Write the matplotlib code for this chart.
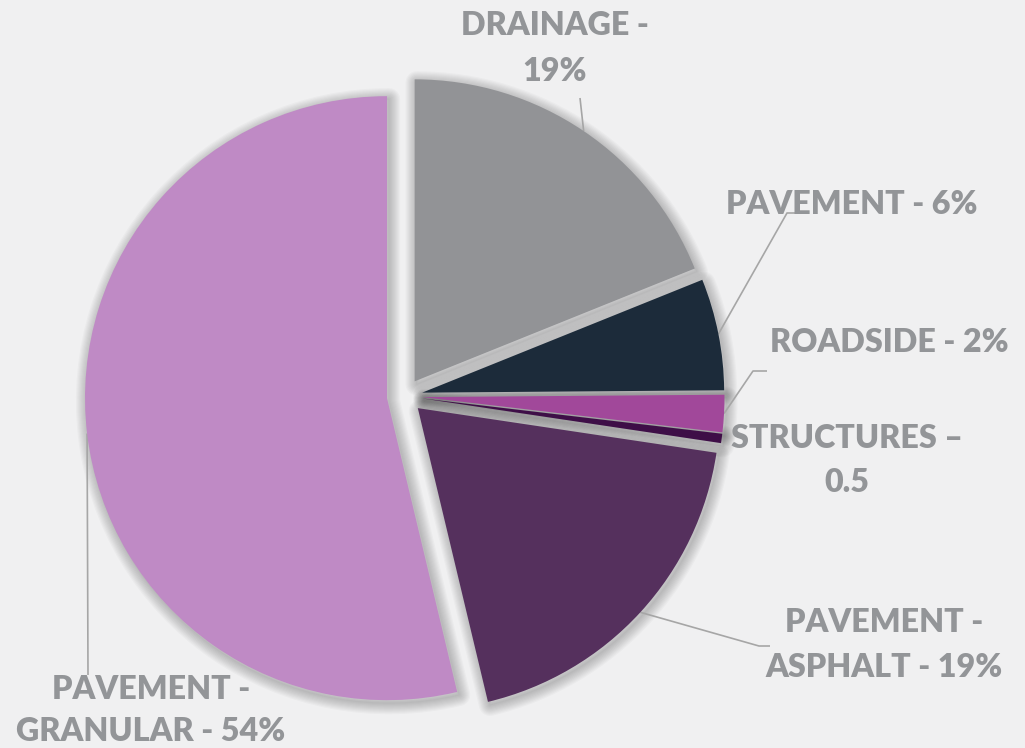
import numpy as np
import matplotlib
matplotlib.use("Agg")
import matplotlib.pyplot as plt
from matplotlib.patches import Wedge

# ---- data ----
categories = ["DRAINAGE -\n19%", "PAVEMENT - 6%", "ROADSIDE - 2%",
              "STRUCTURES –\n0.5", "PAVEMENT -\nASPHALT - 19%",
              "PAVEMENT -\nGRANULAR - 54%"]
values = [19, 6, 2, 0.5, 19, 54]
colors = ["#929396", "#1C2B3A", "#A1489A", "#3E0E47", "#55305D", "#BF8AC5"]

W, H = 1025, 748
BG = "#F0F0F1"
TXT = "#939598"
LINE = "#A6A6A6"

def P(x, y):
    """image pixel coords -> data coords"""
    return x, H - y

# layout (image pixel coordinates)
center = P(404.7, 396.1)
radius = 302
explode = [17.8] * len(values)
# label baselines (first line), x centre, line gap
label_pos = [(555, 35, 46), (852, 214, 45), (889, 352, 45), (847, 448, 44),
             (884, 632, 45), (151, 699, 42)]
# leader elbows: points from the label end toward the slice (None = no leader)
leader_elbow = [
    [(580, 98)],
    [(797, 213), (787, 213)],
    [(767, 371), (753, 371)],
    None,
    [(770, 646), (759, 646)],
    [(88, 675)],
]

plt.rcParams['font.family'] = ['Lato', 'DejaVu Sans']
fig = plt.figure(figsize=(W / 100, H / 100), dpi=100, facecolor=BG)
ax = fig.add_axes([0, 0, 1, 1])
ax.set_facecolor(BG)

wedges, _ = ax.pie(values, colors=colors, startangle=90, counterclock=False,
                   center=center, radius=radius, explode=explode,
                   wedgeprops=dict(edgecolor="none", linewidth=0, zorder=3))

# soft shadow
for w in wedges:
    cx, cy = w.center
    for lw in np.linspace(16, 1, 10):
        ax.add_patch(Wedge((cx + 2, cy - 3), w.r, w.theta1, w.theta2,
                           facecolor="none", edgecolor=(0, 0, 0, 0.022),
                           linewidth=lw, joinstyle="round", zorder=1))

# labels and leaders
for w, lab, (lx, ly, gap), elbow in zip(wedges, categories, label_pos, leader_elbow):
    for i, line in enumerate(lab.split("\n")):
        x, y = P(lx, ly + i * gap)
        ax.text(x, y, line, ha="center", va="baseline", fontsize=23.2,
                fontweight="heavy", color=TXT, zorder=5)
    if elbow is not None:
        cx, cy = w.center
        tm = np.deg2rad((w.theta1 + w.theta2) / 2)
        ex, ey = cx + w.r * np.cos(tm), cy + w.r * np.sin(tm)
        pts = [P(*p) for p in elbow] + [(ex, ey)]
        xs, ys = zip(*pts)
        ax.plot(xs, ys, color=LINE, lw=1.2, zorder=2, solid_capstyle="butt")

ax.set_xlim(0, W)
ax.set_ylim(0, H)
ax.set_aspect("equal")
ax.axis("off")
fig.savefig("out.png", dpi=100, facecolor=BG)
